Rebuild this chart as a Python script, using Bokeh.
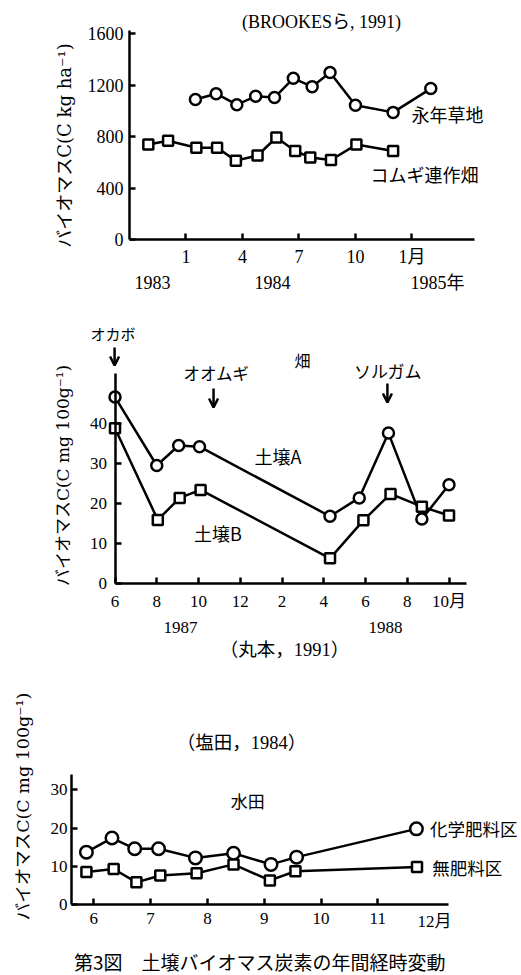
import math
from bokeh.plotting import figure
from bokeh.models import Range1d, LinearAxis, FixedTicker, Label, Arrow, OpenHead
from bokeh.layouts import column
from bokeh.embed import file_html
from bokeh.resources import INLINE

SERIF = "'Liberation Serif', 'Noto Sans CJK JP'"
YSERIF = "'DejaVu Serif', 'Noto Sans CJK JP'"
JP = "'Noto Sans CJK JP'"

# ---------------- data ----------------
# Panel 1 (Brookes et al., 1991): x = month number, Jan 1984 = 1
p1_grass_x = [1.5, 2.6, 3.7, 4.7, 5.7, 6.7, 7.7, 8.65, 10.0, 12.0, 14.0]
p1_grass_y = [1090, 1135, 1050, 1115, 1105, 1255, 1190, 1300, 1045, 990, 1175]
p1_wheat_x = [-1.0, 0.05, 1.55, 2.65, 3.65, 4.8, 5.8, 6.8, 7.6, 8.7, 10.05, 12.0]
p1_wheat_y = [740, 770, 715, 715, 615, 655, 795, 690, 640, 620, 740, 690]
p1_y_ticks = [0, 400, 800, 1200, 1600]
p1_month_ticks = [1, 4, 7, 10, 13]
p1_month_labels = ["1", "4", "7", "10", "1月"]
p1_year_pos = [-0.78, 5.59, 14.36]
p1_year_labels = ["1983", "1984", "1985年"]

# Panel 2 (Marumoto, 1991): x = month number, Jan 1987 = 1
p2_a_x = [6.0, 8.0, 9.05, 10.05, 16.3, 17.7, 19.1, 20.7, 22.0]
p2_a_y = [46.6, 29.5, 34.5, 34.2, 16.8, 21.4, 37.6, 16.1, 24.7]
p2_b_x = [6.0, 8.05, 9.1, 10.1, 16.3, 17.9, 19.2, 20.7, 22.0]
p2_b_y = [38.8, 15.9, 21.4, 23.4, 6.3, 15.8, 22.4, 19.2, 17.0]
p2_y_ticks = [0, 10, 20, 30, 40]
p2_month_ticks = [6, 8, 10, 12, 14, 16, 18, 20, 22]
p2_month_labels = ["6", "8", "10", "12", "2", "4", "6", "8", "10月"]
p2_year_pos = [9.14, 18.96]
p2_year_labels = ["1987", "1988"]

# Panel 3 (Shioda, 1984): x = month number
p3_chem_x = [5.87, 6.32, 6.72, 7.14, 7.79, 8.46, 9.12, 9.57, 11.68]
p3_chem_y = [13.7, 17.4, 14.6, 14.6, 12.2, 13.4, 10.5, 12.4, 19.8]
p3_none_x = [5.87, 6.35, 6.75, 7.17, 7.81, 8.46, 9.10, 9.55, 11.69]
p3_none_y = [8.5, 9.3, 5.8, 7.6, 8.2, 10.5, 6.3, 8.7, 9.8]
p3_y_ticks = [0, 10, 20, 30]
p3_month_ticks = [6, 7, 8, 9, 10, 11]
p3_month_labels = ["6", "7", "8", "9", "10", "11"]
p3_end_tick = [12]
p3_end_label = ["12月"]

LW = 2.5
W = 521


def make_fig(h, ax_px, ax_val, kx, ay_px, ay_val, ky):
    """Figure whose frame fills the whole canvas; ax_px/ay_px are canvas
    pixel positions of the data anchors ax_val/ay_val, kx/ky pixels per unit."""
    xs = ax_val - ax_px / kx
    ys = ay_val - (h - ay_px) / ky
    p = figure(width=W, height=h, title=None,
               x_range=Range1d(xs, xs + W / kx),
               y_range=Range1d(ys, ay_val + ay_px / ky),
               output_backend="svg", toolbar_location=None,
               x_axis_location=None, y_axis_location=None,
               min_border_left=0, min_border_right=0, min_border_top=0,
               min_border_bottom=0)
    p.grid.visible = False
    p.outline_line_color = None
    p.background_fill_color = "white"
    p.border_fill_color = "white"
    return p


def num_axis(ticks, labels, bounds, loc, size="17px", standoff=6, bare=False):
    ax = LinearAxis(ticker=FixedTicker(ticks=ticks, minor_ticks=[]), bounds=bounds,
                    fixed_location=loc,
                    major_label_overrides={t: l for t, l in zip(ticks, labels)},
                    major_label_text_font=SERIF, major_label_text_font_size=size,
                    major_label_text_color="black",
                    major_label_standoff=standoff,
                    major_tick_in=6, major_tick_out=0,
                    major_tick_line_width=LW, axis_line_width=LW,
                    minor_tick_line_color=None)
    if bare:
        ax.axis_line_color = None
        ax.major_tick_line_color = None
    return ax


def lab(p, x, y, text, size="17px", align="center", font=JP, angle=0.0):
    p.add_layout(Label(x=x, y=y, text=text, text_align=align, text_baseline="middle",
                       text_font=font, text_font_size=size, text_color="black",
                       angle=angle))


def series(p, xs, ys, marker, size):
    p.line(xs, ys, line_width=LW, line_color="black")
    p.scatter(xs, ys, marker=marker, size=size, fill_color="white",
              line_color="black", line_width=LW)


# ---------------- panel 1 ----------------
p1 = make_fig(300, 129, -2, 18.83, 239.3, 0, 0.1287)
p1.add_layout(num_axis(p1_y_ticks, [str(t) for t in p1_y_ticks], (0, 1626), -2,
                       size="18px", standoff=6), "left")
p1.add_layout(num_axis(p1_month_ticks, p1_month_labels, (-2, 16.3), 0,
                       size="18px", standoff=7), "below")
series(p1, p1_grass_x, p1_grass_y, "circle", 11)
series(p1, p1_wheat_x, p1_wheat_y, "square", 10)
for xv, t in zip(p1_year_pos, p1_year_labels):
    lab(p1, xv, -332, t, "18px", font=SERIF)
lab(p1, 14.89, 981, "永年草地", "18px")
lab(p1, 13.67, 515, "コムギ連作畑", "18px")
lab(p1, 8.2, 1696, "(BROOKESら, 1991)", "18px", font=SERIF)
lab(p1, -5.45, 733, "バイオマスC(C kg ha⁻¹)", "18px", font=YSERIF, angle=math.pi / 2)

# ---------------- panel 2 ----------------
p2 = make_fig(360, 114.5, 6, 20.875, 283, 0, 4.0)
p2.add_layout(num_axis(p2_y_ticks, [str(t) for t in p2_y_ticks], (0, 52.5), 6,
                       standoff=8), "left")
p2.add_layout(num_axis(p2_month_ticks, p2_month_labels, (6, 22.85), 0,
                       standoff=8), "below")
series(p2, p2_a_x, p2_a_y, "circle", 11)
series(p2, p2_b_x, p2_b_y, "square", 10)
for xv, t in zip(p2_year_pos, p2_year_labels):
    lab(p2, xv, -11, t, "17px", font=SERIF)
lab(p2, 14.12, -16.5, "（丸本，1991）", "18.5px", font=SERIF)
lab(p2, 5.9, 62.5, "オカボ", "15px")
lab(p2, 10.86, 52.75, "オオムギ", "16.5px")
lab(p2, 14.98, 56.0, "畑", "16px")
lab(p2, 19.08, 53.25, "ソルガム", "17px")
lab(p2, 13.81, 32.0, "土壌A", "18px")
lab(p2, 10.93, 12.75, "土壌B", "18px")
lab(p2, 3.53, 27.0, "バイオマスC(C mg 100g⁻¹)", "17px", font=YSERIF, angle=math.pi / 2)
for ax_, y0_, y1_ in [(5.98, 59.0, 54.5), (10.72, 48.75, 44.0), (19.05, 50.0, 45.25)]:
    p2.add_layout(Arrow(x_start=ax_, y_start=y0_, x_end=ax_, y_end=y1_, line_width=LW,
                        end=OpenHead(size=9, line_width=LW)))

# ---------------- panel 3 ----------------
p3 = make_fig(314, 93.3, 6, 56.8, 244, 0, 3.82)
p3.add_layout(num_axis(p3_y_ticks, [str(t) for t in p3_y_ticks], (0, 34.0), 5.607,
                       standoff=4), "left")
p3.add_layout(num_axis(p3_month_ticks, p3_month_labels, (5.607, 12.25), 0,
                       standoff=8), "below")
p3.add_layout(num_axis(p3_end_tick, p3_end_label, (5.607, 12.25), 0,
                       standoff=7, bare=True), "below")
series(p3, p3_chem_x, p3_chem_y, "circle", 12.5)
series(p3, p3_none_x, p3_none_y, "square", 10)
lab(p3, 11.92, 19.9, "化学肥料区", "17.5px", align="left")
lab(p3, 11.96, 9.7, "無肥料区", "17.5px", align="left")
lab(p3, 8.71, 27.2, "水田", "17px")
lab(p3, 8.6, 42.15, "（塩田，1984）", "18.5px", font=SERIF)
lab(p3, 8.92, -14.9, "第3図　土壌バイオマス炭素の年間経時変動", "19px")
lab(p3, 4.75, 25.65, "バイオマスC(C mg 100g⁻¹)", "17.5px", font=YSERIF, angle=math.pi / 2)

layout = column(p1, p2, p3, spacing=0)
open("out.html", "w").write(file_html(layout, INLINE))
